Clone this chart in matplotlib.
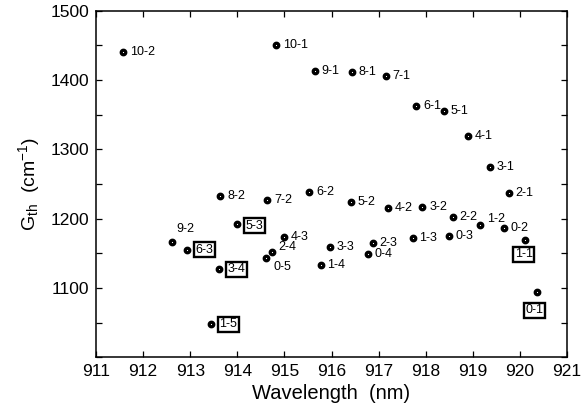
import matplotlib
matplotlib.use("Agg")
import matplotlib.pyplot as plt
import numpy as np

plt.rcParams['font.family'] = ['Liberation Sans', 'DejaVu Sans']
plt.rcParams['mathtext.default'] = 'regular'

# transition labels (v'-v''), wavelength (nm) and threshold gain (cm^-1)
labels = ['10-2', '10-1', '9-1', '8-1', '7-1', '6-1', '5-1', '4-1', '3-1', '2-1',
          '8-2', '7-2', '6-2', '5-2', '4-2', '3-2', '2-2', '1-2', '0-2',
          '9-2', '6-3', '5-3', '4-3', '3-3', '2-3', '1-3', '0-3',
          '3-4', '2-4', '1-4', '0-4', '0-5', '1-5', '1-1', '0-1']
wavelength = [911.58, 914.82, 915.65, 916.44, 917.15, 917.80, 918.38, 918.90, 919.37, 919.76,
              913.64, 914.64, 915.53, 916.42, 917.19, 917.93, 918.58, 919.16, 919.66,
              912.62, 912.93, 913.99, 914.99, 915.96, 916.88, 917.72, 918.49,
              913.62, 914.73, 915.77, 916.78, 914.61, 913.44, 920.10, 920.36]
gain = [1440, 1450, 1413, 1412, 1406, 1363, 1356, 1319, 1275, 1237,
        1233, 1227, 1238, 1224, 1216, 1217, 1203, 1191, 1187,
        1167, 1155, 1192, 1174, 1159, 1165, 1173, 1175,
        1127, 1152, 1134, 1149, 1144, 1048, 1169, 1094]

# boxed labels and labels that sit off the usual right-hand spot
boxed = {'5-3': (12.5, -1), '6-3': (12.5, 0), '3-4': (12.5, 0), '1-5': (12.5, 0),
         '1-1': (-0.5, -10), '0-1': (-2, -13)}
moved = {'9-2': (3, 9), '2-4': (5, 4), '0-5': (5, -7), '1-2': (5, 4)}

fig = plt.figure(figsize=(5.83, 4.17), dpi=100)
ax = fig.add_axes([0.1647, 0.1427, 0.808, 0.8316])

ax.plot(wavelength, gain, 'o', ls='none', ms=3.3, mfc='white', mec='black', mew=2.3)

for lab, x, y in zip(labels, wavelength, gain):
    if lab in boxed:
        ax.annotate(lab, (x, y), xytext=boxed[lab], textcoords='offset points',
                    ha='center', va='center', fontsize=9,
                    bbox=dict(boxstyle='square,pad=0.12', fc='white', ec='black', lw=1.7))
    else:
        dx, dy = moved.get(lab, (4.8, 0))
        ax.annotate(lab, (x, y), xytext=(dx, dy), textcoords='offset points',
                    ha='left', va='center', fontsize=9)

ax.set_xlim(911, 921)
ax.set_ylim(1000, 1500)
ax.set_xticks(np.arange(911, 922, 1))
yt = np.arange(1000, 1501, 50)
ax.set_yticks(yt)
ax.set_yticklabels([str(v) if v % 100 == 0 and v > 1000 else '' for v in yt])
ax.tick_params(direction='in', top=True, right=True, length=4, width=0.9,
               labelsize=12.5, pad=5)
for s in ax.spines.values():
    s.set_linewidth(1.1)

ax.set_xlabel('Wavelength  (nm)', fontsize=14.5, labelpad=3)
ax.set_ylabel(r'G$_{th}$  (cm$^{-1}$)', fontsize=14, labelpad=6)

fig.savefig('out.png', dpi=100)
